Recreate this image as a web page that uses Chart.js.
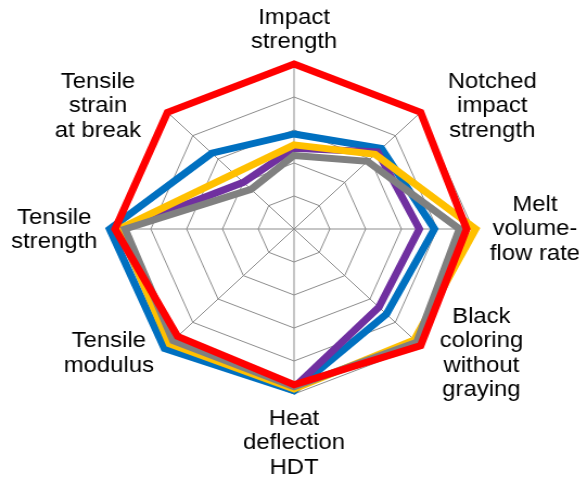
<!DOCTYPE html>
<html>
<head>
<meta charset="utf-8">
<script src="https://cdn.jsdelivr.net/npm/chart.js@4.4.1/dist/chart.umd.min.js"></script>
<style>
    html, body { margin: 0; padding: 0; background: #fff; overflow: hidden; }
    #wrap { width: 534px; height: 479px; transform: scaleX(1.085); transform-origin: 0 0; }
</style>
</head>
<body>
<div id="wrap"><canvas id="myChart" width="534" height="479"></canvas></div>
<script>
// axes, clockwise from the top
let axisLabels = [
    ['Impact', 'strength'],
    ['Notched', 'impact', 'strength'],
    ['Melt', 'volume-', 'flow rate'],
    ['Black', 'coloring', 'without', 'graying'],
    ['Heat', 'deflection', 'HDT'],
    ['Tensile', 'modulus'],
    ['Tensile', 'strength'],
    ['Tensile', 'strain', 'at break']
];
let redValues = [5.0, 5.0, 4.82, 5.0, 4.72, 4.6, 5.0, 5.0];
let grayValues = [2.23, 2.9, 4.62, 4.85, 4.78, 4.78, 4.72, 1.7];
let yellowValues = [2.55, 3.2, 5.07, 4.75, 4.85, 4.92, 4.88, 2.37];
let purpleValues = [2.45, 3.3, 3.5, 3.35, 4.8, 4.85, 4.8, 2.0];
let blueValues = [2.88, 3.45, 3.92, 3.65, 4.9, 5.12, 5.15, 3.25];
let scaleMax = 5;

// where each label block sits, relative to the outer grid vertex of its axis
let labelOffsets = [[0, -34], [66, -6], [57, 0], [56, 8], [0, 49], [-54, 8], [-56, 1], [-64, -6]];
let lineH = 24.5;

const axisLabelPlugin = {
    id: 'axisLabels',
    afterDatasetsDraw(chart) {
        const scale = chart.scales.r;
        const ctx = chart.ctx;
        ctx.save();
        ctx.font = '22px "Liberation Sans", Arial, sans-serif';
        ctx.fillStyle = '#000';
        ctx.textAlign = 'center';
        ctx.textBaseline = 'middle';
        axisLabels.forEach((lines, i) => {
            const p = scale.getPointPosition(i, scale.drawingArea);
            const cx = p.x + labelOffsets[i][0];
            const cy = p.y + labelOffsets[i][1];
            const top = cy - (lines.length - 1) * lineH / 2;
            lines.forEach((t, j) => ctx.fillText(t, cx, top + j * lineH));
        });
        ctx.restore();
    }
};

function series(values, color) {
    return {
        data: values,
        borderColor: color,
        borderWidth: 7,
        borderJoinStyle: 'miter',
        fill: false,
        pointRadius: 0,
        pointHoverRadius: 0,
        tension: 0,
        clip: false
    };
}

var ctx = document.getElementById('myChart');
var chart = new Chart(ctx, {
    type: 'radar',
    data: {
        labels: axisLabels.map(l => l.join(' ')),
        // first dataset is painted last (on top)
        datasets: [
            series(redValues, '#FF0000'),
            series(grayValues, '#808080'),
            series(yellowValues, '#FFC000'),
            series(purpleValues, '#7030A0'),
            series(blueValues, '#0070C0')
        ]
    },
    options: {
        responsive: false,
        animation: false,
        layout: { padding: { top: 64, bottom: 85, left: 106, right: 98 } },
        scales: {
            r: {
                min: 0,
                max: scaleMax,
                ticks: { display: false, stepSize: 1 },
                grid: { color: '#8c8c8c', lineWidth: 1 },
                angleLines: { color: '#8c8c8c', lineWidth: 1 },
                pointLabels: { display: false }
            }
        },
        plugins: {
            legend: { display: false },
            tooltip: { enabled: false }
        }
    },
    plugins: [axisLabelPlugin]
});
</script>
</body>
</html>
